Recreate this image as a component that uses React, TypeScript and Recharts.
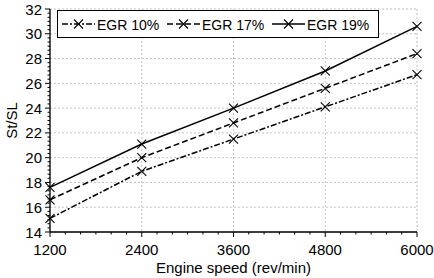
import React from "react";
import {
  LineChart,
  Line,
  XAxis,
  YAxis,
  CartesianGrid,
} from "recharts";

const speeds = [1200, 2400, 3600, 4800, 6000];
const egr10 = [15.1, 18.9, 21.5, 24.1, 26.7];
const egr17 = [16.6, 20.0, 22.8, 25.6, 28.4];
const egr19 = [17.6, 21.1, 24.0, 27.0, 30.6];

const xMajor = [1200, 2400, 3600, 4800, 6000];
const yMajor = [14, 16, 18, 20, 22, 24, 26, 28, 30, 32];

const seriesNames = ["EGR 10%", "EGR 17%", "EGR 19%"];
const seriesKeys = ["egr10", "egr17", "egr19"];
const seriesDash = ["6 2 2 2", "6 3", undefined];

const data = speeds.map((s, i) => ({
  speed: s,
  egr10: egr10[i],
  egr17: egr17[i],
  egr19: egr19[i],
}));

// minor ticks: 200 rpm on x, 1/3 unit on y
const xTicks: number[] = [];
for (let v = 1200; v <= 6000; v += 200) xTicks.push(v);
const yTicks: number[] = [];
for (let i = 0; i <= 54; i++) yTicks.push(14 + i / 3);

const FONT = "'Liberation Sans', Arial, Helvetica, sans-serif";

const XTick = (props: any) => {
  const { x, y, payload } = props;
  const major = xMajor.includes(payload.value);
  return (
    <g>
      <line x1={x} x2={x} y1={y} y2={y + (major ? 5 : 2.5)} stroke="#000" strokeWidth={1} />
      {major && (
        <text x={x} y={y + 23} textAnchor="middle" fontSize={15} fontFamily={FONT} fill="#000">
          {payload.value}
        </text>
      )}
    </g>
  );
};

const YTick = (props: any) => {
  const { x, y, index } = props;
  const major = index % 6 === 0;
  return (
    <g>
      <line x1={x} x2={x - (major ? 5 : 2.5)} y1={y} y2={y} stroke="#000" strokeWidth={1} />
      {major && (
        <text x={x - 8} y={y + 5.5} textAnchor="end" fontSize={15} fontFamily={FONT} fill="#000">
          {yMajor[index / 6]}
        </text>
      )}
    </g>
  );
};

const XMarker = (props: any) => {
  const { cx, cy } = props;
  if (cx == null || cy == null) return null;
  const r = 4.5;
  return (
    <g>
      <line x1={cx - r} y1={cy - r} x2={cx + r} y2={cy + r} stroke="#000" strokeWidth={1.1} />
      <line x1={cx - r} y1={cy + r} x2={cx + r} y2={cy - r} stroke="#000" strokeWidth={1.1} />
    </g>
  );
};

const LegendBox = () => {
  const itemX = [5, 110, 215];
  return (
    <svg
      width={322}
      height={28}
      style={{ position: "absolute", left: 57, top: 10 }}
    >
      <rect x={0.5} y={0.5} width={321} height={27} fill="#fff" stroke="#000" strokeWidth={1} />
      {seriesNames.map((name, i) => (
        <g key={name}>
          <line
            x1={itemX[i]}
            x2={itemX[i] + 33}
            y1={14}
            y2={14}
            stroke="#000"
            strokeWidth={1.3}
            strokeDasharray={seriesDash[i]}
          />
          <XMarker cx={itemX[i] + 16.5} cy={14} />
          <text x={itemX[i] + 35} y={20} fontSize={14} fontFamily={FONT} fill="#000">
            {name}
          </text>
        </g>
      ))}
    </svg>
  );
};

export default function App() {
  return (
    <div style={{ position: "absolute", left: 0, top: 0, width: 434, height: 278, background: "#fff" }}>
      <LineChart
        width={434}
        height={278}
        data={data}
        margin={{ top: 9, right: 17, left: 0, bottom: 0 }}
      >
        <CartesianGrid
          stroke="#c4c4c4"
          strokeDasharray="2 2"
          horizontalValues={yMajor}
          verticalValues={xMajor}
        />
        <XAxis
          dataKey="speed"
          type="number"
          domain={[1200, 6000]}
          ticks={xTicks}
          interval={0}
          tickSize={0}
          tickMargin={0}
          tickLine={false}
          tick={<XTick />}
          height={46}
          axisLine={{ stroke: "#000", strokeWidth: 1.3 }}
          label={{
            value: "Engine speed (rev/min)",
            position: "insideBottom",
            offset: 5,
            style: { fontSize: 15, fontFamily: FONT, fill: "#000" },
          }}
        />
        <XAxis
          xAxisId="top"
          orientation="top"
          type="number"
          domain={[1200, 6000]}
          height={0}
          tick={false}
          tickLine={false}
          axisLine={{ stroke: "#000", strokeWidth: 1.3 }}
        />
        <YAxis
          type="number"
          domain={[14, 32]}
          ticks={yTicks}
          interval={0}
          tickSize={0}
          tickMargin={0}
          tickLine={false}
          tick={<YTick />}
          width={50}
          axisLine={{ stroke: "#000", strokeWidth: 1.3 }}
          label={{
            value: "St/SL",
            angle: -90,
            position: "insideLeft",
            offset: 12,
            style: { fontSize: 15, fontFamily: FONT, fill: "#000", textAnchor: "middle" },
          }}
        />
        <YAxis
          yAxisId="right"
          orientation="right"
          type="number"
          domain={[14, 32]}
          width={0}
          tick={false}
          tickLine={false}
          axisLine={{ stroke: "#000", strokeWidth: 1.3 }}
        />
        {seriesKeys.map((key, i) => (
          <Line
            key={key}
            dataKey={key}
            name={seriesNames[i]}
            stroke="#000"
            strokeWidth={1.5}
            strokeDasharray={seriesDash[i]}
            dot={<XMarker />}
            isAnimationActive={false}
          />
        ))}
      </LineChart>
      <LegendBox />
    </div>
  );
}
